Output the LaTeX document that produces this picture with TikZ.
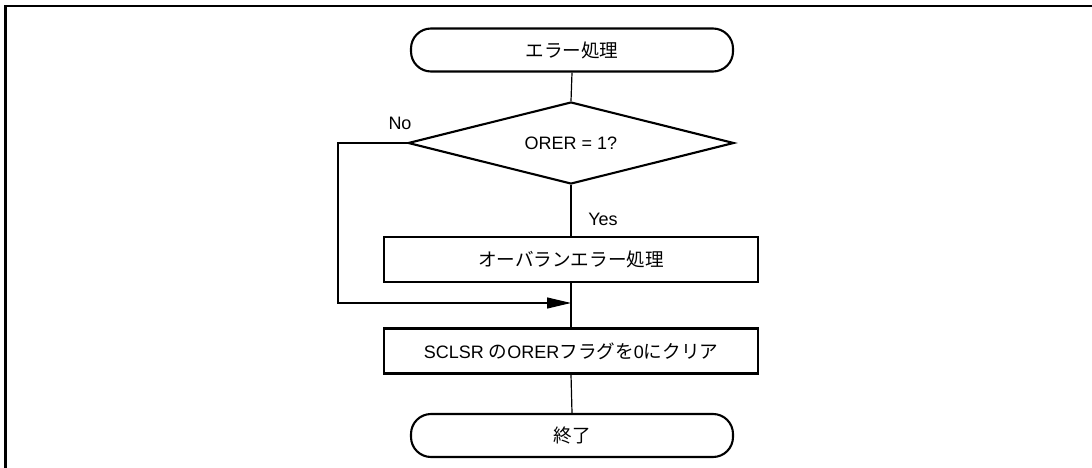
\documentclass[tikz,border=0pt]{standalone}
\usepackage{fontspec}
\setmainfont{Liberation Sans}
\newfontfamily\cjk{Noto Sans CJK JP}
\usetikzlibrary{shapes.geometric,arrows.meta}
\tikzset{
  box/.style={draw,line width=2.1pt,minimum width=374pt,minimum height=45pt,inner sep=0pt},
  term/.style={draw,line width=2.1pt,rounded corners=20pt,minimum width=322pt,minimum height=43pt,inner sep=0pt},
  dia/.style={draw,line width=2.1pt,shape=diamond,aspect=4,minimum width=326pt,minimum height=82pt,inner sep=0pt},
  conn/.style={line width=1.2pt},
  lbl/.style={inner sep=0pt},
  txt/.style={font=\fontsize{18}{20}\selectfont},
  jp/.style={font=\fontsize{18.6}{20}\selectfont\cjk}
}
\begin{document}
\begin{tikzpicture}[x=1pt,y=-1pt,txt]
\useasboundingbox (0,0) rectangle (1092,468);
\draw[line width=2.5pt] (5.5,470) -- (5.5,6) -- (1094,6);
\node[term,jp] (start) at (572,50) {エラー処理};
\node[dia] (q) at (571,143) {ORER = 1?};
\node[box,jp] (p1) at (571,259.5) {オーバランエラー処理};
\node[box] (p2) at (571,351) {SCLSR {\fontsize{18.6}{20}\selectfont\cjk の}ORER{\fontsize{18.6}{20}\selectfont\cjk フラグを}0{\fontsize{18.6}{20}\selectfont\cjk にクリア}};
\node[term,jp] (end) at (572,435.5) {終了};
\coordinate (j) at (571,303);
\coordinate (lt) at (338,143);
\coordinate (lb) at (338,303);
\draw[conn] (start.south) -- (q.north);
\draw[conn] (q.south) -- (p1.north);
\draw[conn] (p1.south) -- (p2.north);
\draw[conn] (p2.south) -- (end.north);
\draw[conn,-{Triangle[length=24pt,width=11pt]}] (q.west) -- (lt) -- (lb) -- (j);
\node[lbl] (no) at (400,123) {No};
\node[lbl] (yes) at (603,219) {Yes};
\end{tikzpicture}
\end{document}
